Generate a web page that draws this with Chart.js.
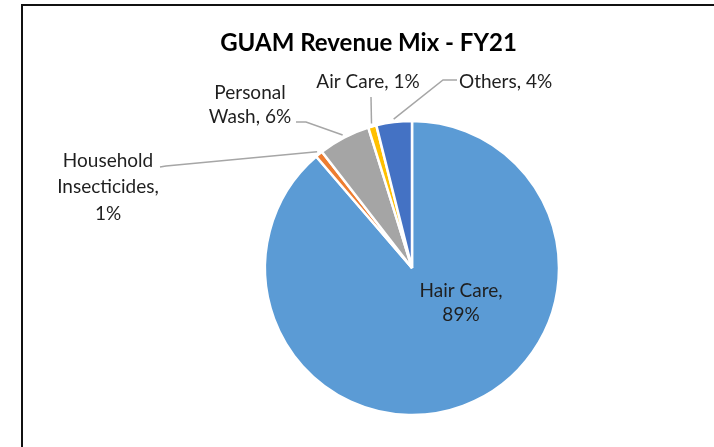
<!DOCTYPE html>
<html>
<head>
<meta charset="utf-8">
<script src="https://cdn.jsdelivr.net/npm/chart.js@4.4.0/dist/chart.umd.min.js"></script>
<style>
  html, body { margin: 0; padding: 0; background: #fff; }
  #wrap { width: 714px; height: 447px; position: relative; }
</style>
</head>
<body>
<div id="wrap"><canvas id="pie" width="714" height="447"></canvas></div>
<script>
// Data
const categories = ['Hair Care', 'Household Insecticides', 'Personal Wash', 'Air Care', 'Others'];
const shares = [88.7, 0.8, 5.7, 0.9, 3.9];
const shownPct = ['89%', '1%', '6%', '1%', '4%'];
const sliceColors = ['#5B9BD5', '#ED7D31', '#A5A5A5', '#FFC000', '#4472C4'];

// How each data label is broken into lines
const labelLines = [
    ['Hair Care,', shownPct[0]],
    ['Household', 'Insecticides,', shownPct[1]],
    ['Personal', 'Wash, ' + shownPct[2]],
    ['Air Care, ' + shownPct[3]],
    ['Others, ' + shownPct[4]]
];

// Text placement for labels (leader lines end on the slice itself)
const labelLayout = [
    { x: 461, y: [297, 321], align: 'center', leader: null },
    { x: 108, y: [167, 193, 220], align: 'center', leader: [[160, 167], [166, 166]] },
    { x: 250, y: [99, 123], align: 'center', leader: [[296, 122], [306, 122]] },
    { x: 368, y: [88], align: 'center', leader: [[371, 97]] },
    { x: 459, y: [88], align: 'left', leader: [[457, 80], [443, 80]] }
];

const FONT = 'Lato, "Open Sans", sans-serif';

const frameAndLabels = {
    id: 'frameAndLabels',
    beforeDraw(chart) {
        const ctx = chart.ctx;
        ctx.save();
        ctx.fillStyle = '#fff';
        ctx.fillRect(0, 0, chart.width, chart.height);
        ctx.fillStyle = '#111';
        ctx.fillRect(21, 4, 2, chart.height);
        ctx.fillRect(21, 4, chart.width, 2);
        ctx.restore();
    },
    afterDatasetsDraw(chart) {
        const ctx = chart.ctx;
        const arcs = chart.getDatasetMeta(0).data;
        ctx.save();

        // title
        ctx.fillStyle = '#000';
        ctx.font = 'bold 24px ' + FONT;
        ctx.textAlign = 'center';
        ctx.textBaseline = 'alphabetic';
        ctx.fillText('GUAM Revenue Mix - FY21', 368.5, 51);

        // leader lines
        ctx.strokeStyle = '#A6A6A6';
        ctx.lineWidth = 1.5;
        arcs.forEach((arc, i) => {
            const lay = labelLayout[i];
            if (!lay.leader) return;
            const p = arc.getProps(['x', 'y', 'startAngle', 'endAngle', 'outerRadius'], true);
            const mid = (p.startAngle + p.endAngle) / 2;
            const r = p.outerRadius + 3;
            ctx.beginPath();
            ctx.moveTo(lay.leader[0][0], lay.leader[0][1]);
            for (let k = 1; k < lay.leader.length; k++) {
                ctx.lineTo(lay.leader[k][0], lay.leader[k][1]);
            }
            ctx.lineTo(p.x + Math.cos(mid) * r, p.y + Math.sin(mid) * r);
            ctx.stroke();
        });

        // label text
        ctx.fillStyle = '#1f1f1f';
        ctx.font = '19px ' + FONT;
        labelLines.forEach((lines, i) => {
            const lay = labelLayout[i];
            ctx.textAlign = lay.align;
            lines.forEach((t, j) => ctx.fillText(t, lay.x, lay.y[j]));
        });
        ctx.restore();
    }
};

new Chart(document.getElementById('pie'), {
    type: 'pie',
    data: {
        labels: categories,
        datasets: [{
            data: shares,
            backgroundColor: sliceColors,
            borderColor: '#fff',
            borderWidth: 2.5
        }]
    },
    options: {
        responsive: false,
        devicePixelRatio: 1,
        animation: false,
        radius: 147,
        layout: { padding: { left: 110, right: 0, top: 89, bottom: 0 } },
        plugins: {
            legend: { display: false },
            title: { display: false },
            tooltip: { enabled: false }
        }
    },
    plugins: [frameAndLabels]
});
</script>
</body>
</html>
